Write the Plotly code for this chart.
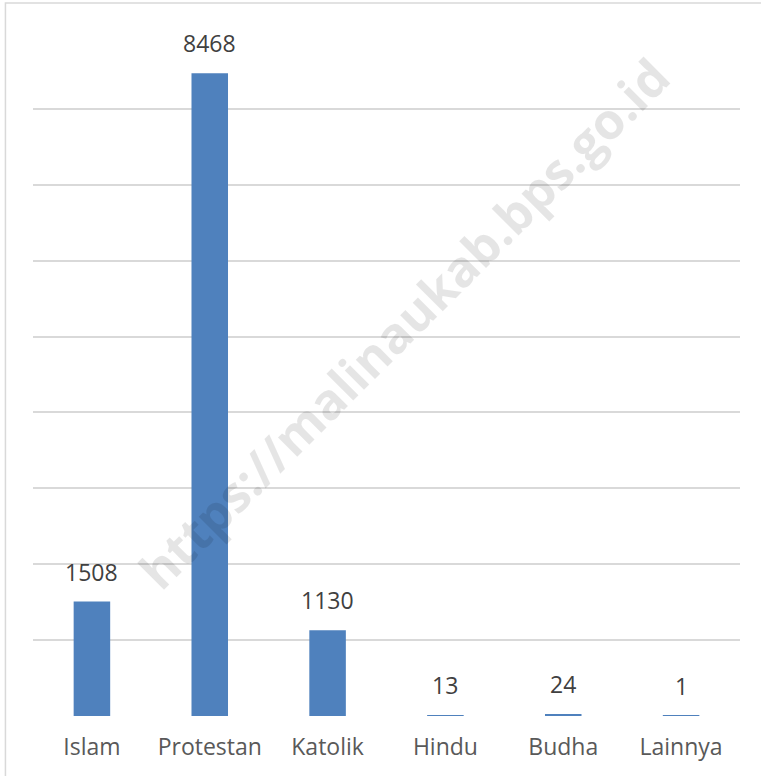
import plotly.graph_objects as go

categories = ["Islam", "Protestan", "Katolik", "Hindu", "Budha", "Lainnya"]
values = [1508, 8468, 1130, 13, 24, 1]
y_ticks = [0, 1000, 2000, 3000, 4000, 5000, 6000, 7000, 8000, 9000]
watermark = "https://malinaukab.bps.go.id"

FONT = "Open Sans"

fig = go.Figure()
fig.add_trace(go.Bar(
    x=categories, y=values,
    marker=dict(color="#4f81bd", line=dict(width=0)),
    hoverinfo="x+y",
))

annotations = []
for c, v in zip(categories, values):
    annotations.append(dict(
        x=c, y=v, xref="x", yref="y", text=str(v), showarrow=False,
        yanchor="middle", yshift=30,
        font=dict(family=FONT, size=23, color="#404040"),
    ))

annotations.append(dict(
    x=0.525, y=0.575, xref="paper", yref="paper", text="<b>" + watermark + "</b>",
    showarrow=False, textangle=-45,
    font=dict(family=FONT, size=50, color="rgba(0,0,0,0.10)"),
))

fig.update_layout(
    width=761, height=776,
    margin=dict(l=33, r=21, t=33, b=60),
    paper_bgcolor="white", plot_bgcolor="white",
    bargap=0.69,
    showlegend=False,
    annotations=annotations,
    shapes=[dict(
        type="rect", xref="paper", yref="paper",
        x0=-0.039, x1=1.04, y0=-0.1, y1=1.0439,
        line=dict(color="#d9d9d9", width=1.5), fillcolor="rgba(0,0,0,0)",
        layer="above",
    )],
    xaxis=dict(
        showgrid=False, zeroline=False, showline=False,
        ticks="outside", ticklen=10, tickcolor="rgba(0,0,0,0)",
        tickfont=dict(family=FONT, size=23, color="#595959"),
    ),
    yaxis=dict(
        range=[0, 9000], tickvals=y_ticks, showticklabels=False,
        showgrid=True, gridcolor="#d9d9d9", gridwidth=1.5,
        zeroline=False, showline=False,
    ),
)

fig.write_html(
    "out.html",
    config={"displayModeBar": False},
    post_script="document.body.style.margin='0px';document.body.style.overflow='hidden';",
)
